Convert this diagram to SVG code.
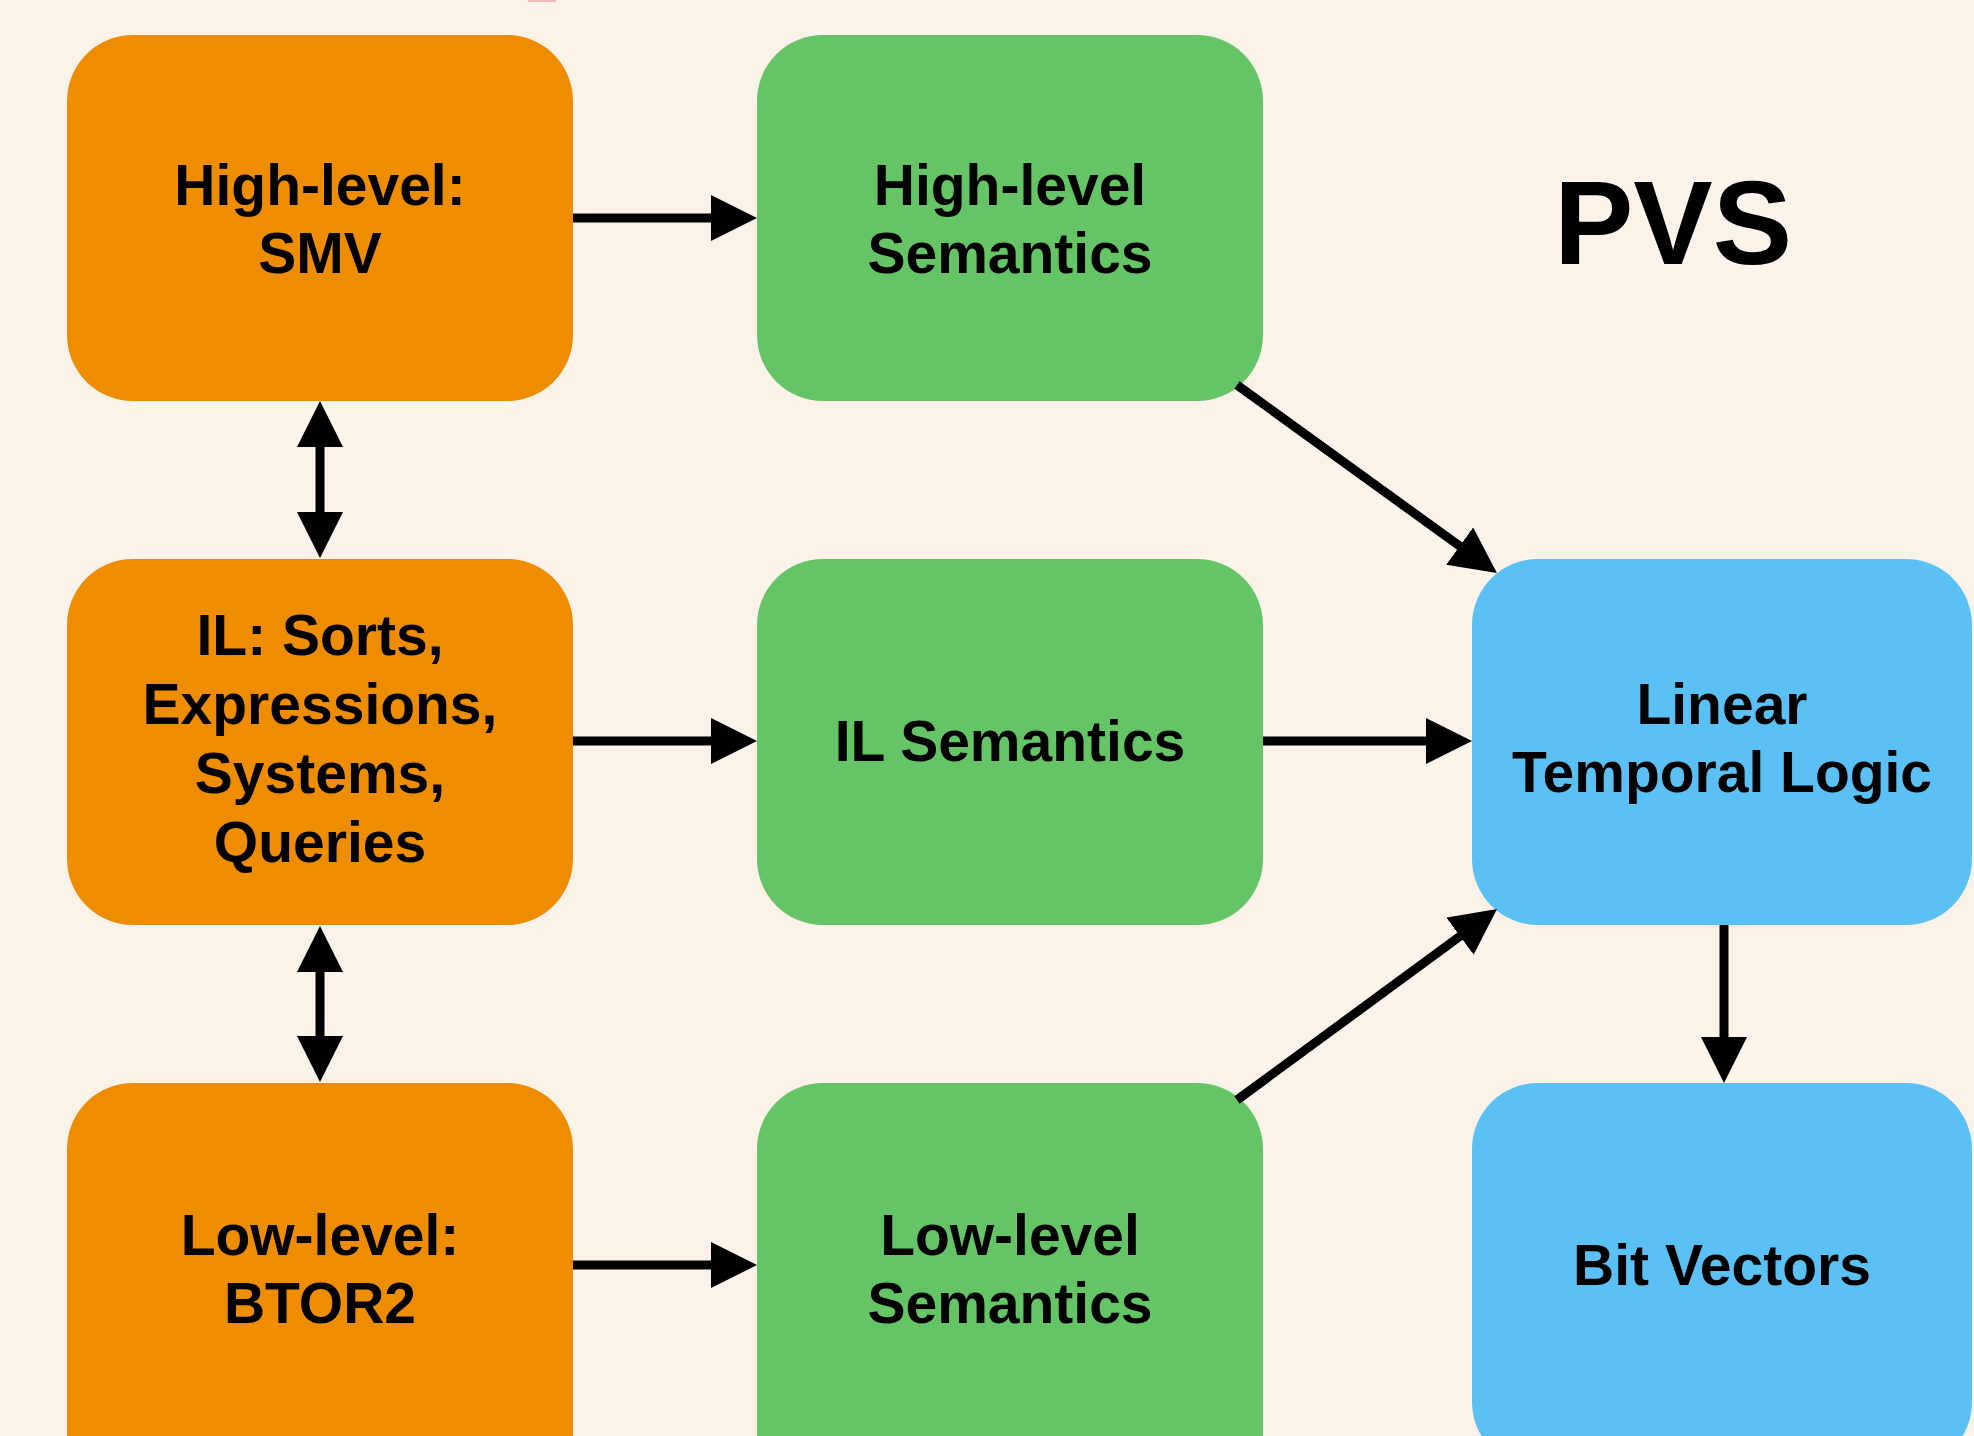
<svg xmlns="http://www.w3.org/2000/svg" width="1974" height="1436" viewBox="0 0 1974 1436">
  <defs>
    <style>
      .bg { fill: #FBF2EA; }
      .orange { fill: #EF8D00; }
      .green { fill: #64C466; }
      .blue { fill: #5BC1F4; }
      .lbl { font-family: "Liberation Sans", Arial, Helvetica, sans-serif; font-weight: bold; font-size: 57px; fill: #000; text-anchor: middle; }
      .title { font-family: "Liberation Sans", Arial, Helvetica, sans-serif; font-weight: bold; font-size: 119px; fill: #000; text-anchor: middle; }
      .conn { stroke: #000; stroke-width: 9; fill: none; }
    </style>
    <marker id="arrow" viewBox="0 0 46 46" refX="4" refY="23" markerWidth="46" markerHeight="46" markerUnits="userSpaceOnUse" orient="auto-start-reverse">
      <path d="M0,0 L46,23 L0,46 z" fill="#000"/>
    </marker>
  </defs>

  <rect class="bg" x="0" y="0" width="1974" height="1436"/>
  <rect x="528" y="0" width="28" height="2" fill="#F2B9B9"/>

  <g id="node-highlevel-smv">
    <rect class="orange" x="67" y="35" width="506" height="366" rx="66" ry="66"/>
    <text class="lbl" x="320" y="205">High-level:</text>
    <text class="lbl" x="320" y="273">SMV</text>
  </g>
  <g id="node-il">
    <rect class="orange" x="67" y="559" width="506" height="366" rx="66" ry="66"/>
    <text class="lbl" x="320" y="655">IL: Sorts,</text>
    <text class="lbl" x="320" y="724">Expressions,</text>
    <text class="lbl" x="320" y="793">Systems,</text>
    <text class="lbl" x="320" y="862">Queries</text>
  </g>
  <g id="node-lowlevel-btor2">
    <rect class="orange" x="67" y="1083" width="506" height="420" rx="66" ry="66"/>
    <text class="lbl" x="320" y="1255">Low-level:</text>
    <text class="lbl" x="320" y="1323">BTOR2</text>
  </g>

  <g id="node-highlevel-semantics">
    <rect class="green" x="757" y="35" width="506" height="366" rx="66" ry="66"/>
    <text class="lbl" x="1010" y="205">High-level</text>
    <text class="lbl" x="1010" y="273">Semantics</text>
  </g>
  <g id="node-il-semantics">
    <rect class="green" x="757" y="559" width="506" height="366" rx="66" ry="66"/>
    <text class="lbl" x="1010" y="761">IL Semantics</text>
  </g>
  <g id="node-lowlevel-semantics">
    <rect class="green" x="757" y="1083" width="506" height="420" rx="66" ry="66"/>
    <text class="lbl" x="1010" y="1255">Low-level</text>
    <text class="lbl" x="1010" y="1323">Semantics</text>
  </g>

  <g id="node-pvs">
    <text class="title" x="1673" y="264">PVS</text>
  </g>
  <g id="node-ltl">
    <rect class="blue" x="1472" y="559" width="500" height="366" rx="66" ry="66"/>
    <text class="lbl" x="1722" y="724">Linear</text>
    <text class="lbl" x="1722" y="792">Temporal Logic</text>
  </g>
  <g id="node-bitvectors">
    <rect class="blue" x="1472" y="1083" width="500" height="385" rx="66" ry="66"/>
    <text class="lbl" x="1722" y="1285">Bit Vectors</text>
  </g>

  <g id="connectors">
    <line class="conn" x1="573" y1="218" x2="715" y2="218" marker-end="url(#arrow)"/>
    <line class="conn" x1="573" y1="741" x2="715" y2="741" marker-end="url(#arrow)"/>
    <line class="conn" x1="573" y1="1265" x2="715" y2="1265" marker-end="url(#arrow)"/>
    <line class="conn" x1="1263" y1="741" x2="1430" y2="741" marker-end="url(#arrow)"/>
    <line class="conn" x1="320" y1="443" x2="320" y2="516" marker-start="url(#arrow)" marker-end="url(#arrow)"/>
    <line class="conn" x1="320" y1="968" x2="320" y2="1040" marker-start="url(#arrow)" marker-end="url(#arrow)"/>
    <line class="conn" x1="1237" y1="385" x2="1462.9" y2="548.4" marker-end="url(#arrow)"/>
    <line class="conn" x1="1237" y1="1100" x2="1463.2" y2="933.9" marker-end="url(#arrow)"/>
    <line class="conn" x1="1724" y1="925" x2="1724" y2="1041" marker-end="url(#arrow)"/>
  </g>
</svg>
